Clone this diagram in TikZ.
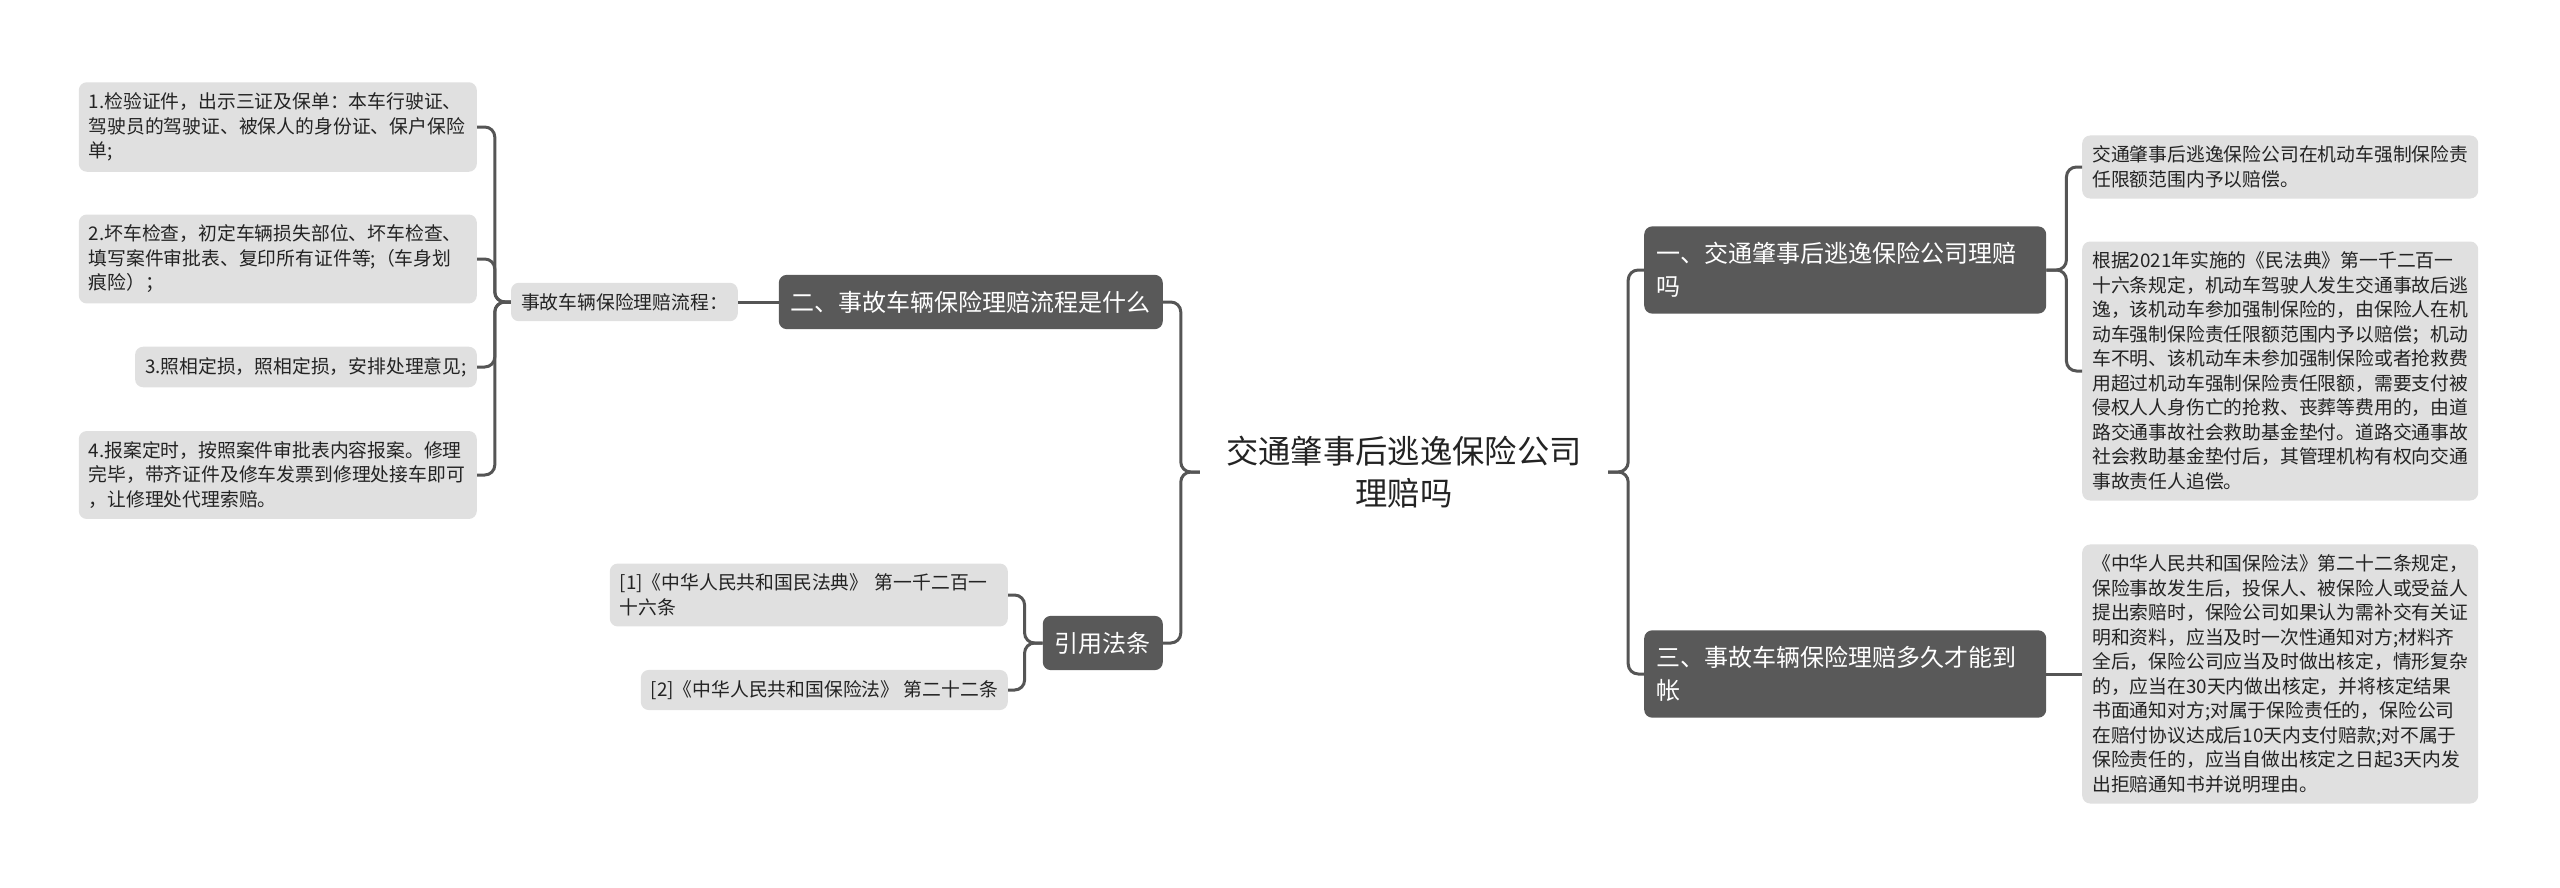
\documentclass[tikz,border=0pt]{standalone}
\usepackage{fontspec}
\setmainfont{Noto Sans CJK SC}
\definecolor{darkc}{RGB}{89,89,89}
\definecolor{linec}{RGB}{85,85,85}
\definecolor{lightc}{RGB}{224,224,224}
\definecolor{txt}{RGB}{35,35,35}
\tikzset{
  leaf/.style={fill=lightc, rounded corners=8bp, inner xsep=10bp, inner ysep=10.5bp, align=left, text=txt, font=\fontsize{18.8bp}{24.5bp}\selectfont},
  title/.style={fill=darkc, rounded corners=8bp, inner xsep=12bp, inner ysep=16bp, align=left, text=white, font=\fontsize{24bp}{33bp}\selectfont},
  rootnode/.style={inner xsep=24bp, inner ysep=6bp, align=center, text width=360bp, text=txt, font=\fontsize{32.3bp}{42bp}\selectfont},
  conn/.style={draw=linec, line width=3bp, rounded corners=10bp}
}
\begin{document}
\begin{tikzpicture}[x=1bp,y=-1bp]
\fill[white] (0,0) rectangle (2560,887);
\useasboundingbox (0,0) rectangle (2560,887);

% root
\node[rootnode] (root) at (1404,472) {交通肇事后逃逸保险公司\\理赔吗};

% left side
\node[title, anchor=east] (t2) at (1163,302) {二、事故车辆保险理赔流程是什么};
\node[leaf, anchor=east] (flow) at (738,302) {事故车辆保险理赔流程：};
\node[leaf, anchor=east, text width=378bp] (l1) at (477,127) {1.检验证件，出示三证及保单：本车行驶证、\\驾驶员的驾驶证、被保人的身份证、保户保险\\单;};
\node[leaf, anchor=east, text width=378bp] (l2) at (477,259) {2.坏车检查，初定车辆损失部位、坏车检查、\\填写案件审批表、复印所有证件等;（车身划\\痕险）；};
\node[leaf, anchor=east] (l3) at (477,367) {3.照相定损，照相定损，安排处理意见;};
\node[leaf, anchor=east, text width=378bp] (l4) at (477,475) {4.报案定时，按照案件审批表内容报案。修理\\完毕，带齐证件及修车发票到修理处接车即可\\，让修理处代理索赔。};

\node[title, anchor=east] (cite) at (1163,643) {引用法条};
\node[leaf, anchor=east, text width=378bp] (ref1) at (1008,595) {[1]《中华人民共和国民法典》 第一千二百一\\十六条};
\node[leaf, anchor=east] (ref2) at (1008,690) {[2]《中华人民共和国保险法》 第二十二条};

% right side
\node[title, anchor=west, text width=378bp] (t1) at (1644,270) {一、交通肇事后逃逸保险公司理赔\\吗};
\node[title, anchor=west, text width=378bp] (t3) at (1644,674) {三、事故车辆保险理赔多久才能到\\帐};

\node[leaf, anchor=west, text width=376bp] (ra) at (2082,167) {交通肇事后逃逸保险公司在机动车强制保险责\\任限额范围内予以赔偿。};
\node[leaf, anchor=west, text width=376bp] (rb) at (2082,371) {根据2021年实施的《民法典》第一千二百一\\十六条规定，机动车驾驶人发生交通事故后逃\\逸，该机动车参加强制保险的，由保险人在机\\动车强制保险责任限额范围内予以赔偿；机动\\车不明、该机动车未参加强制保险或者抢救费\\用超过机动车强制保险责任限额，需要支付被\\侵权人人身伤亡的抢救、丧葬等费用的，由道\\路交通事故社会救助基金垫付。道路交通事故\\社会救助基金垫付后，其管理机构有权向交通\\事故责任人追偿。};
\node[leaf, anchor=west, text width=376bp] (rc) at (2082,674) {《中华人民共和国保险法》第二十二条规定，\\保险事故发生后，投保人、被保险人或受益人\\提出索赔时，保险公司如果认为需补交有关证\\明和资料，应当及时一次性通知对方;材料齐\\全后，保险公司应当及时做出核定，情形复杂\\的，应当在30天内做出核定，并将核定结果\\书面通知对方;对属于保险责任的，保险公司\\在赔付协议达成后10天内支付赔款;对不属于\\保险责任的，应当自做出核定之日起3天内发\\出拒赔通知书并说明理由。};

% connectors
\draw[conn] (root.west) -- ++(-19,0) |- (t2.east);
\draw[conn] (root.west) -- ++(-19,0) |- (cite.east);
\draw[conn] (root.east) -- ++(20,0) |- (t1.west);
\draw[conn] (root.east) -- ++(20,0) |- (t3.west);

\draw[conn] (t2.west) -- (flow.east);
\foreach \n in {l1,l2,l3,l4}
  \draw[conn] (flow.west) -- ++(-16,0) |- (\n.east);

\foreach \n in {ref1,ref2}
  \draw[conn] (cite.west) -- ++(-18,0) |- (\n.east);

\foreach \n in {ra,rb}
  \draw[conn] (t1.east) -- ++(20,0) |- (\n.west);
\draw[conn] (t3.east) -- (rc.west);
\end{tikzpicture}
\end{document}
